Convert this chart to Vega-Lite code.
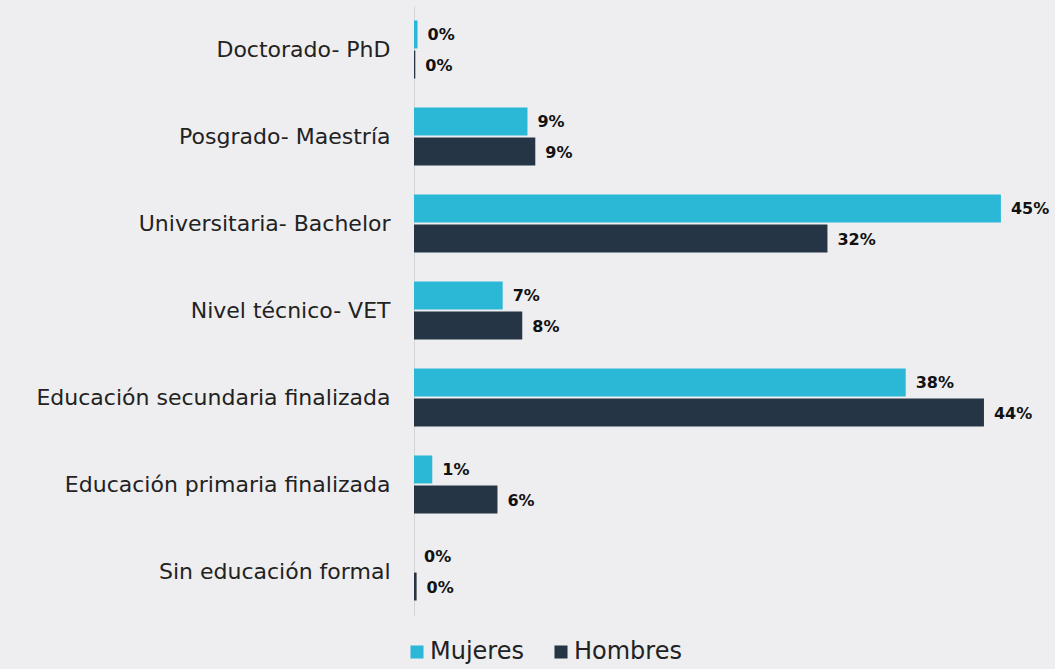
{
  "$schema": "https://vega.github.io/schema/vega-lite/v6.json",
  "autosize": "none",
  "width": 613,
  "height": 609,
  "padding": {"left": 414, "top": 6, "right": 28, "bottom": 54},
  "background": "#eeeef0",
  "config": {
    "view": {"stroke": null},
    "font": "DejaVu Sans"
  },
  "data": {
    "values": [
      {"nivel": "Doctorado- PhD", "genero": "Mujeres", "valor": 0.0027},
      {"nivel": "Doctorado- PhD", "genero": "Hombres", "valor": 0.001},
      {"nivel": "Posgrado- Maestría", "genero": "Mujeres", "valor": 0.087},
      {"nivel": "Posgrado- Maestría", "genero": "Hombres", "valor": 0.093},
      {"nivel": "Universitaria- Bachelor", "genero": "Mujeres", "valor": 0.45},
      {"nivel": "Universitaria- Bachelor", "genero": "Hombres", "valor": 0.317},
      {"nivel": "Nivel técnico- VET", "genero": "Mujeres", "valor": 0.068},
      {"nivel": "Nivel técnico- VET", "genero": "Hombres", "valor": 0.083},
      {"nivel": "Educación secundaria finalizada", "genero": "Mujeres", "valor": 0.377},
      {"nivel": "Educación secundaria finalizada", "genero": "Hombres", "valor": 0.437},
      {"nivel": "Educación primaria finalizada", "genero": "Mujeres", "valor": 0.014},
      {"nivel": "Educación primaria finalizada", "genero": "Hombres", "valor": 0.064},
      {"nivel": "Sin educación formal", "genero": "Mujeres", "valor": 0},
      {"nivel": "Sin educación formal", "genero": "Hombres", "valor": 0.002}
    ]
  },
  "encoding": {
    "y": {
      "field": "nivel",
      "type": "nominal",
      "sort": ["Doctorado- PhD", "Posgrado- Maestría", "Universitaria- Bachelor", "Nivel técnico- VET", "Educación secundaria finalizada", "Educación primaria finalizada", "Sin educación formal"],
      "scale": {"paddingInner": 0.333, "paddingOuter": 0.1665},
      "axis": {
        "title": null,
        "ticks": false,
        "labelPadding": 24,
        "labelFontSize": 22,
        "labelColor": "#222222",
        "labelFont": "DejaVu Sans",
        "domainColor": "#d4d4d6",
        "domainWidth": 1,
        "labelLimit": 500
      }
    },
    "yOffset": {
      "field": "genero",
      "type": "nominal",
      "sort": ["Mujeres", "Hombres"],
      "scale": {"paddingInner": 0.07, "paddingOuter": 0}
    },
    "x": {
      "field": "valor",
      "type": "quantitative",
      "scale": {"domain": [0, 0.47], "nice": false, "zero": true},
      "axis": null
    }
  },
  "layer": [
    {
      "mark": {"type": "bar"},
      "encoding": {
        "color": {
          "field": "genero",
          "type": "nominal",
          "sort": ["Mujeres", "Hombres"],
          "scale": {"domain": ["Mujeres", "Hombres"], "range": ["#2bb8d6", "#253545"]},
          "legend": {
            "title": null,
            "orient": "none",
            "direction": "horizontal",
            "legendX": -9,
            "legendY": 634,
            "symbolType": "square",
            "symbolSize": 170,
            "symbolStrokeWidth": 0,
            "labelFontSize": 24,
            "labelColor": "#222222",
            "labelFont": "DejaVu Sans",
            "columnPadding": 25,
            "labelOffset": 1
          }
        }
      }
    },
    {
      "mark": {"type": "text", "align": "left", "baseline": "middle", "dx": 10, "dy": 1, "fontSize": 16, "fontWeight": "bold", "color": "#111111", "font": "DejaVu Sans"},
      "encoding": {
        "text": {"field": "valor", "type": "quantitative", "format": ".0%"}
      }
    }
  ]
}
